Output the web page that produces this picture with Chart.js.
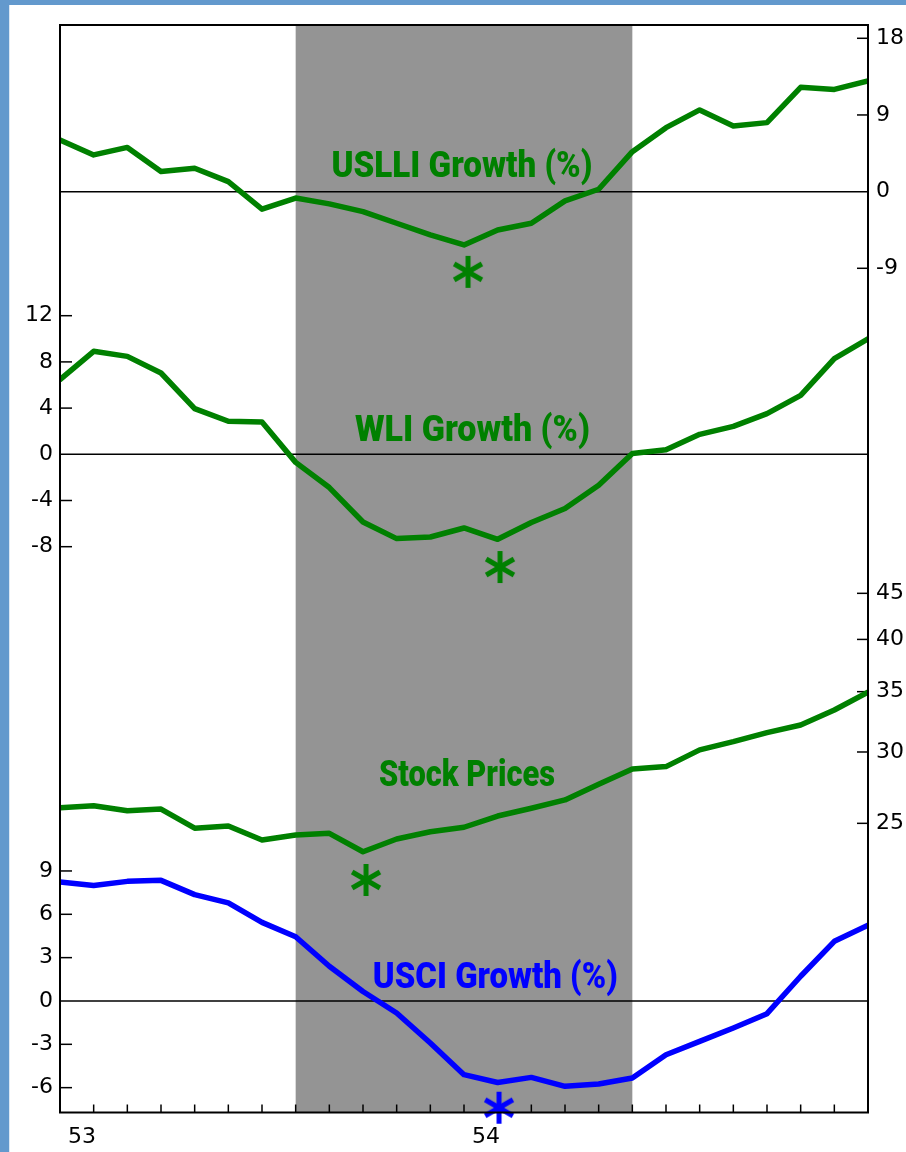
<!DOCTYPE html>
<html>
<head>
<meta charset="utf-8">
<script src="https://cdn.jsdelivr.net/npm/chart.js@4.4.1/dist/chart.umd.min.js"></script>
<style>
  html, body { margin: 0; padding: 0; background: #fff; }
  #wrap { position: relative; width: 906px; height: 1152px; overflow: hidden; }
  #chart { position: absolute; left: 0; top: 0; }
  .edge { position: absolute; background: #6399cd; }
  #edgeLeft { left: 0; top: 0; width: 9px; height: 1152px; border-right: 1px solid #dbe7f4; }
  #edgeTop { left: 0; top: 0; width: 906px; height: 5px; }
</style>
</head>
<body>
<div id="wrap">
  <canvas id="chart" width="906" height="1152"></canvas>
  <div class="edge" id="edgeLeft"></div>
  <div class="edge" id="edgeTop"></div>
</div>
<script>
// monthly, Dec 1952 .. Dec 1954
var months = ['Dec 52',
  'Jan 53', 'Feb 53', 'Mar 53', 'Apr 53', 'May 53', 'Jun 53', 'Jul 53', 'Aug 53', 'Sep 53', 'Oct 53', 'Nov 53', 'Dec 53',
  'Jan 54', 'Feb 54', 'Mar 54', 'Apr 54', 'May 54', 'Jun 54', 'Jul 54', 'Aug 54', 'Sep 54', 'Oct 54', 'Nov 54', 'Dec 54'];
var yearLabels = ['53', '54'];
var yearMonths = ['Jan 53', 'Jan 54'];
var recession = ['Jul 53', 'May 54'];

var uslliGrowth = [6.07, 4.31, 5.19, 2.35, 2.75, 1.17, -2.06, -0.75, -1.44, -2.35, -3.71, -5.08, -6.26,
  -4.5, -3.71, -1.09, 0.28, 4.69, 7.51, 9.59, 7.71, 8.1, 12.25, 12.0, 13.0];
var wliGrowth = [6.47, 8.92, 8.48, 7.04, 3.96, 2.86, 2.8, -0.7, -2.88, -5.86, -7.3, -7.16, -6.38,
  -7.36, -5.9, -4.7, -2.68, 0.06, 0.4, 1.73, 2.42, 3.52, 5.1, 8.28, 10.0];
var stockPrices = [26.02, 26.15, 25.82, 25.93, 24.69, 24.83, 23.96, 24.27, 24.37, 23.25, 24.02, 24.47, 24.75,
  25.47, 25.98, 26.54, 27.62, 28.73, 28.9, 30.16, 30.8, 31.52, 32.14, 33.4, 34.95];
var usciGrowth = [8.24, 8.0, 8.28, 8.35, 7.36, 6.79, 5.44, 4.45, 2.4, 0.66, -0.83, -2.91, -5.1,
  -5.64, -5.29, -5.91, -5.75, -5.33, -3.72, -2.8, -1.87, -0.88, 1.71, 4.13, 5.24];

var uslliTicks = [18, 9, 0, -9];
var wliTicks = [12, 8, 4, 0, -4, -8];
var stockTicks = [25, 30, 35, 40, 45];
var usciTicks = [9, 6, 3, 0, -3, -6];

var seriesNames = ['USLLI Growth (%)', 'WLI Growth (%)', 'Stock Prices', 'USCI Growth (%)'];
// cycle troughs, marked with an asterisk (month position, value on the series' own scale)
var troughAt = [12.12, 13.07, 9.09, 13.04];
var troughMark = [-9.42, -9.76, 21.63, -7.39];

var GREEN = '#008000', BLUE = '#0000ff';
var axisIds = ['yA', 'yB', 'yC', 'yD'];
var colors = [GREEN, GREEN, GREEN, BLUE];

function points(arr) {
  return arr.map(function (v, i) { return { x: i, y: v }; });
}

function asterisk(color) {
  var c = document.createElement('canvas');
  c.width = 36; c.height = 36;
  var g = c.getContext('2d');
  g.strokeStyle = color;
  g.lineWidth = 5;
  g.translate(18, 18);
  [90, 30, 150].forEach(function (a) {
    var r = a * Math.PI / 180;
    g.beginPath();
    g.moveTo(-16 * Math.cos(r), -16 * Math.sin(r));
    g.lineTo(16 * Math.cos(r), 16 * Math.sin(r));
    g.stroke();
  });
  return c;
}

function fixedTicks(values) {
  return function (scale) {
    scale.ticks = values.map(function (v) { return { value: v }; });
  };
}

function yAxis(pos, min, max, ticks, width, type) {
  return {
    type: type || 'linear',
    position: pos,
    min: min,
    max: max,
    afterBuildTicks: fixedTicks(ticks),
    afterFit: function (s) { s.width = width; },
    grid: { display: false, drawTicks: false },
    border: { display: false },
    ticks: {
      color: '#000',
      autoSkip: false,
      padding: pos === 'left' ? 7 : 8,
      font: { family: 'DejaVu Sans', size: 22 },
      callback: function (v) { return String(v); }
    }
  };
}

var datasets = [uslliGrowth, wliGrowth, stockPrices, usciGrowth].map(function (arr, i) {
  return {
    label: seriesNames[i],
    data: points(arr),
    yAxisID: axisIds[i],
    borderColor: colors[i],
    borderWidth: 5.5,
    borderCapStyle: 'round',
    borderJoinStyle: 'round',
    pointRadius: 0,
    tension: 0,
    fill: false
  };
});
troughAt.forEach(function (x, i) {
  datasets.push({
    label: seriesNames[i] + ' trough',
    data: [{ x: x, y: troughMark[i] }],
    yAxisID: axisIds[i],
    showLine: false,
    pointStyle: asterisk(colors[i]),
    pointRadius: 12,
    clip: false
  });
});

// where each series name sits: month position, value on its scale, ink width
var titleSpots = [
  { x: 11.94, y: 1.77, w: 261 },
  { x: 12.25, y: 1.18, w: 235 },
  { x: 12.09, y: 27.5, w: 176 },
  { x: 12.93, y: 0.9, w: 245 }
];

function seg(ctx, x0, y0, x1, y1) {
  ctx.beginPath();
  ctx.moveTo(x0, y0);
  ctx.lineTo(x1, y1);
  ctx.stroke();
}

var overlay = {
  id: 'overlay',
  afterLayout: function (chart) {
    var s = chart.scales;
    s.yD.left = s.yB.left; s.yD.right = s.yB.right;
    s.yC.left = s.yA.left; s.yC.right = s.yA.right;
  },
  beforeDatasetsDraw: function (chart) {
    var ctx = chart.ctx, a = chart.chartArea, s = chart.scales;
    ctx.save();

    var x0 = s.x.getPixelForValue(months.indexOf(recession[0]));
    var x1 = s.x.getPixelForValue(months.indexOf(recession[1]));
    ctx.fillStyle = '#949494';
    ctx.fillRect(x0, a.top, x1 - x0, a.bottom - a.top);

    ctx.strokeStyle = '#000';
    ctx.lineWidth = 1.5;
    ['yA', 'yB', 'yD'].forEach(function (id) {
      var y = s[id].getPixelForValue(0);
      seg(ctx, a.left, y, a.right, y);
    });
    ['yB', 'yD'].forEach(function (id) {
      s[id].ticks.forEach(function (t) {
        if (t.value === 0) return;
        var y = s[id].getPixelForValue(t.value);
        seg(ctx, a.left, y, a.left + 12, y);
      });
    });
    ['yA', 'yC'].forEach(function (id) {
      s[id].ticks.forEach(function (t) {
        if (t.value === 0) return;
        var y = s[id].getPixelForValue(t.value);
        seg(ctx, a.right - 11, y, a.right, y);
      });
    });
    for (var i = 1; i < months.length - 1; i++) {
      var x = s.x.getPixelForValue(i);
      seg(ctx, x, a.bottom, x, a.bottom - 8);
    }

    ctx.font = '900 36px Roboto';
    ctx.textAlign = 'center';
    ctx.textBaseline = 'alphabetic';
    titleSpots.forEach(function (p, i) {
      var w = ctx.measureText(seriesNames[i]).width;
      ctx.save();
      ctx.translate(s.x.getPixelForValue(p.x), s[axisIds[i]].getPixelForValue(p.y));
      ctx.scale(p.w / w, 1);
      ctx.fillStyle = colors[i];
      ctx.fillText(seriesNames[i], 0, 0);
      ctx.restore();
    });
    ctx.restore();
  },
  afterDatasetsDraw: function (chart) {
    var ctx = chart.ctx, a = chart.chartArea;
    ctx.save();
    ctx.strokeStyle = '#000';
    ctx.lineWidth = 2;
    ctx.strokeRect(a.left, a.top, a.right - a.left, a.bottom - a.top);
    ctx.restore();
  }
};

new Chart(document.getElementById('chart'), {
  type: 'line',
  data: { datasets: datasets },
  options: {
    responsive: false,
    animation: false,
    layout: { padding: { top: 25, left: 0, right: 0, bottom: 0 } },
    plugins: { legend: { display: false }, tooltip: { enabled: false } },
    scales: {
      x: {
        type: 'linear',
        min: 0,
        max: months.length - 1,
        afterBuildTicks: function (s) {
          s.ticks = yearMonths.map(function (m) { return { value: months.indexOf(m) - 0.35 }; });
        },
        afterFit: function (s) { s.height = 39.5; },
        grid: { display: false, drawTicks: false },
        border: { display: false },
        ticks: {
          color: '#000',
          autoSkip: false,
          maxRotation: 0,
          padding: 12,
          font: { family: 'DejaVu Sans', size: 22 },
          callback: function (v, i) { return yearLabels[i]; }
        }
      },
      yA: yAxis('right', -108.1, 19.56, uslliTicks, 38),
      yB: yAxis('left', -56.99, 37.17, wliTicks, 60),
      yC: yAxis('right', 11.94, 192.3, stockTicks, 0, 'logarithmic'),
      yD: yAxis('left', -7.72, 67.56, usciTicks, 0)
    }
  },
  plugins: [overlay]
});
</script>
</body>
</html>
